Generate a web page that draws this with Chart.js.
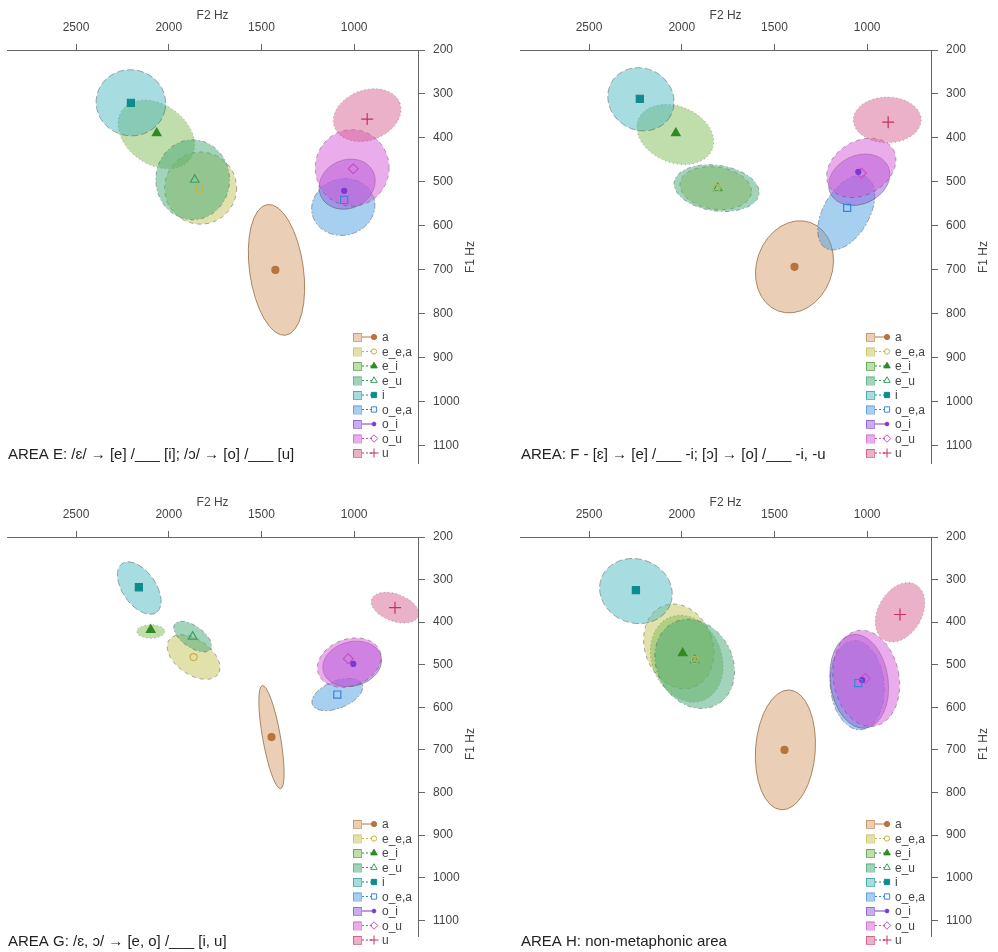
<!DOCTYPE html>
<html>
<head>
<meta charset="utf-8">
<script src="https://cdn.jsdelivr.net/npm/chart.js@4.4.1/dist/chart.umd.min.js"></script>
<style>
  html, body { margin: 0; padding: 0; background: #fff; }
  #wrap { position: relative; width: 998px; height: 952px; }
  canvas { position: absolute; }
</style>
</head>
<body>
<div id="wrap">
  <canvas id="pE" width="513" height="487" style="left:0;top:0"></canvas>
  <canvas id="pF" width="485" height="487" style="left:513px;top:0"></canvas>
  <canvas id="pG" width="513" height="465" style="left:0;top:487px"></canvas>
  <canvas id="pH" width="485" height="465" style="left:513px;top:487px"></canvas>
</div>
<script>
// --- data ---
const vowels = ['a', 'e_e,a', 'e_i', 'e_u', 'i', 'o_e,a', 'o_i', 'o_u', 'u'];
const f2Ticks = [1000, 1500, 2000, 2500];
const f1Ticks = [200, 300, 400, 500, 600, 700, 800, 900, 1000, 1100];
const f2Range = [656, 2871];
const f1Range = [200, 1139];

const titleE = 'AREA E: /ɛ/ → [e] /___ [i]; /ɔ/ → [o] /___ [u]';
const titleF = 'AREA: F - [ɛ] → [e] /___ -i; [ɔ] → [o] /___ -i, -u';
const titleG = 'AREA G: /ɛ, ɔ/ → [e, o] /___ [i, u]';
const titleH = 'AREA H: non-metaphonic area';

// mean [F2, F1] per vowel
const meansE = [[1425, 700], [1833, 516], [2065, 389], [1860, 495], [2204, 320], [1054, 541], [1054, 520], [1005, 470], [930, 357]];
const meansF = [[1392, 693], [1812, 514], [2032, 389], [1806, 514], [2226, 311], [1108, 559], [1048, 477], [1032, 480], [887, 364]];
const meansG = [[1446, 670], [1866, 482], [2097, 418], [1871, 434], [2161, 318], [1091, 570], [1005, 498], [1032, 486], [780, 366]];
const meansH = [[1446, 700], [1930, 489], [1995, 473], [1930, 489], [2247, 325], [1048, 543], [1027, 536], [1011, 532], [823, 382]];

// ellipses per vowel: [centre F2, centre F1, half-width in F2 Hz, half-height in F1 Hz, tilt deg]
const ellipsesE = [[1419, 700, 145, 150, -8], [1828, 514, 194, 82, 0], [2067, 392, 226, 68, 35], [1871, 495, 199, 91, 0], [2204, 320, 188, 75, 10], [1059, 557, 172, 64, -15], [1038, 505, 156, 55, -25], [1011, 468, 199, 87, 0], [930, 348, 188, 57, -20]];
const ellipsesF = [[1392, 693, 204, 107, 20], [1817, 514, 194, 48, 8], [2035, 392, 215, 64, 22], [1812, 514, 231, 52, 8], [2220, 312, 183, 70, 30], [1113, 570, 124, 93, 30], [1043, 495, 172, 55, -25], [1032, 468, 199, 61, -30], [892, 359, 183, 52, 0]];
const ellipsesG = [[1446, 670, 48, 123, -10], [1866, 482, 161, 41, 35], [2097, 422, 75, 16, 0], [1871, 434, 118, 25, 35], [2159, 320, 161, 39, 55], [1091, 570, 145, 32, -22], [1011, 498, 161, 52, -15], [1027, 495, 177, 55, -20], [780, 366, 134, 32, 20]];
const ellipsesH = [[1441, 700, 161, 141, 4], [2016, 457, 183, 102, -20], [1973, 486, 188, 105, -22], [1930, 498, 204, 109, -28], [2247, 327, 199, 75, 20], [1054, 548, 145, 105, -5], [1043, 539, 156, 111, -8], [1005, 532, 177, 114, -10], [823, 377, 118, 75, 30]];

// --- styles ---
const fillColors = ['rgba(214,160,110,0.5)', 'rgba(196,196,90,0.5)', 'rgba(130,190,90,0.5)', 'rgba(70,170,120,0.5)',
  'rgba(80,185,195,0.5)', 'rgba(80,160,225,0.5)', 'rgba(150,90,225,0.5)', 'rgba(215,90,215,0.5)', 'rgba(215,100,145,0.5)'];
const markerColors = ['#b8743a', '#c8b440', '#2e8b22', '#3aa060', '#0e8c8c', '#3a84d8', '#7a3ad0', '#c850c8', '#c83060'];
const markerStyles = ['circle', 'circle', 'triangle', 'triangle', 'rect', 'rect', 'circle', 'rectRot', 'cross'];
const markerFilled = [true, false, true, false, true, false, true, false, false];
const markerSizes = [3.5, 3.5, 5, 5, 5, 5, 2.5, 5, 6];
const lineDashes = [[], [4, 4], [1, 3], [1, 3, 4, 3], [7, 3], [2, 2, 6, 2], [], [4, 4], [1, 3]];

const FONT = '"Liberation Sans", Arial, "DejaVu Sans", sans-serif';
Chart.defaults.font.family = FONT;
Chart.defaults.color = '#333';

// draws ellipses under the points, then legend, F1 title and panel title on top
function makeOverlay(ellipses, title) {
    return {
        id: 'overlay',
        beforeDatasetsDraw(chart) {
            const { ctx, chartArea, scales: { x, y } } = chart;
            ctx.save();
            ctx.beginPath();
            ctx.rect(chartArea.left, chartArea.top, chartArea.width, chartArea.height);
            ctx.clip();
            ellipses.forEach((e, i) => {
                const cx = x.getPixelForValue(e[0]);
                const cy = y.getPixelForValue(e[1]);
                const rx = Math.abs(x.getPixelForValue(e[0] + e[2]) - cx);
                const ry = Math.abs(y.getPixelForValue(e[1] + e[3]) - cy);
                ctx.beginPath();
                ctx.ellipse(cx, cy, rx, ry, e[4] * Math.PI / 180, 0, 2 * Math.PI);
                ctx.fillStyle = fillColors[i];
                ctx.fill();
                ctx.setLineDash(lineDashes[i]);
                ctx.lineWidth = 1;
                ctx.strokeStyle = i === 0 ? 'rgba(150,110,70,0.8)' : 'rgba(70,70,70,0.45)';
                ctx.stroke();
            });
            ctx.restore();
        },
        afterDraw(chart) {
            const { ctx } = chart;
            ctx.save();
            // legend: box, line and marker, label
            ctx.font = '12px ' + FONT;
            ctx.textBaseline = 'middle';
            ctx.textAlign = 'left';
            vowels.forEach((v, i) => {
                const yy = 337 + i * 14.5;
                ctx.setLineDash([]);
                ctx.fillStyle = fillColors[i];
                ctx.fillRect(353, yy - 4, 8, 8);
                ctx.strokeStyle = markerColors[i];
                ctx.lineWidth = 1;
                ctx.globalAlpha = 0.6;
                ctx.strokeRect(353.5, yy - 3.5, 8, 8);
                ctx.globalAlpha = 1;
                ctx.setLineDash(lineDashes[i].length ? [2, 2] : []);
                ctx.beginPath();
                ctx.moveTo(362, yy);
                ctx.lineTo(372, yy);
                ctx.stroke();
                ctx.setLineDash([]);
                ctx.fillStyle = markerFilled[i] ? markerColors[i] : 'rgba(0,0,0,0)';
                Chart.helpers.drawPoint(ctx, {
                    pointStyle: markerStyles[i],
                    radius: markerSizes[i] * 0.75,
                    rotation: 0,
                    borderWidth: 1
                }, 374, yy);
                ctx.fillStyle = '#444';
                ctx.fillText(v, 382, yy + 1);
            });
            // F1 axis title, read bottom to top
            ctx.translate(471, 257);
            ctx.rotate(-Math.PI / 2);
            ctx.textAlign = 'center';
            ctx.fillStyle = '#444';
            ctx.fillText('F1 Hz', 0, 0);
            ctx.restore();
            // panel title
            ctx.save();
            ctx.font = '15px ' + FONT;
            ctx.fillStyle = '#222';
            ctx.textBaseline = 'middle';
            ctx.fillText(title, 8, 455);
            ctx.restore();
        }
    };
}

function buildPanel(canvasId, means, ellipses, title) {
    const canvas = document.getElementById(canvasId);
    const H = canvas.height;
    return new Chart(canvas, {
        type: 'scatter',
        data: {
            datasets: vowels.map((v, i) => ({
                label: v,
                data: [{ x: means[i][0], y: means[i][1] }],
                pointStyle: markerStyles[i],
                pointRadius: markerSizes[i],
                pointBackgroundColor: markerFilled[i] ? markerColors[i] : 'rgba(0,0,0,0)',
                pointBorderColor: markerColors[i],
                pointBorderWidth: 1.2
            }))
        },
        options: {
            responsive: false,
            animation: false,
            devicePixelRatio: 1,
            layout: { padding: { left: 6, right: 0, top: 0, bottom: H - 463 } },
            plugins: { legend: { display: false }, tooltip: { enabled: false } },
            scales: {
                x: {
                    type: 'linear',
                    position: 'top',
                    reverse: true,
                    min: f2Range[0],
                    max: f2Range[1],
                    afterBuildTicks: s => { s.ticks = f2Ticks.map(v => ({ value: v })); },
                    afterFit: s => { s.height = 50; },
                    grid: { drawOnChartArea: false, drawTicks: true, tickLength: 6, color: '#666' },
                    border: { display: true, color: '#666' },
                    ticks: { padding: 9, font: { size: 12 }, color: '#444', callback: v => String(v) },
                    title: { display: true, text: 'F2 Hz', font: { size: 12 }, color: '#444', padding: { top: 8, bottom: 0 } }
                },
                y: {
                    type: 'linear',
                    position: 'right',
                    reverse: true,
                    min: f1Range[0],
                    max: f1Range[1],
                    afterBuildTicks: s => { s.ticks = f1Ticks.map(v => ({ value: v })); },
                    afterFit: s => { s.width = s.chart.width - 418; },
                    grid: { drawOnChartArea: false, drawTicks: true, tickLength: 7, color: '#666' },
                    border: { display: true, color: '#666' },
                    ticks: { padding: 8, font: { size: 12 }, color: '#444', callback: v => String(v) }
                }
            }
        },
        plugins: [makeOverlay(ellipses, title)]
    });
}

buildPanel('pE', meansE, ellipsesE, titleE);
buildPanel('pF', meansF, ellipsesF, titleF);
buildPanel('pG', meansG, ellipsesG, titleG);
buildPanel('pH', meansH, ellipsesH, titleH);
</script>
</body>
</html>
